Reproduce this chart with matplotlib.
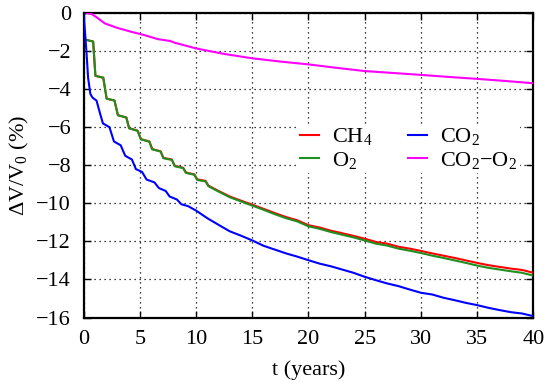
import matplotlib
matplotlib.use('Agg')
import matplotlib.pyplot as plt

plt.rcParams['font.family'] = 'Liberation Serif'
plt.rcParams['mathtext.fontset'] = 'custom'
plt.rcParams['mathtext.rm'] = 'Liberation Serif'
plt.rcParams['mathtext.it'] = 'Liberation Serif'

# O2 (green): steps in the first years, then yearly values
t_o2 = [0.3, 0.85, 1.05, 1.75, 2.05, 2.75, 3.05, 3.8, 4.05, 4.8, 5.1, 5.85,
        6.1, 6.85, 7.1, 7.85, 8.1, 8.85, 9.1, 9.85, 10.1, 10.85, 11.1,
        12, 13, 14, 15, 16, 17, 18, 19, 20, 21, 22, 23, 24, 25, 26, 27, 28,
        29, 30, 31, 32, 33, 34, 35, 36, 37, 38, 39, 40]
v_o2 = [-1.42, -1.5, -3.3, -3.4, -4.5, -4.6, -5.37, -5.49, -6.06, -6.19, -6.64, -6.76,
        -7.16, -7.28, -7.63, -7.72, -8.05, -8.15, -8.4, -8.5, -8.77, -8.85, -9.1,
        -9.38, -9.68, -9.9, -10.12, -10.34, -10.57, -10.78, -10.95, -11.21, -11.34,
        -11.51, -11.65, -11.79, -11.95, -12.12, -12.22, -12.38, -12.49, -12.61,
        -12.75, -12.87, -13.0, -13.13, -13.27, -13.39, -13.48, -13.57, -13.65, -13.8]

# CH4 (red): nearly the same as O2, slightly higher later on
t_ch4 = t_o2
v_ch4 = [-1.42, -1.5, -3.3, -3.4, -4.5, -4.6, -5.37, -5.49, -6.05, -6.18, -6.63, -6.75,
         -7.15, -7.27, -7.61, -7.7, -8.03, -8.13, -8.38, -8.48, -8.74, -8.82, -9.07,
         -9.35, -9.64, -9.86, -10.07, -10.29, -10.51, -10.72, -10.89, -11.15, -11.27,
         -11.44, -11.57, -11.71, -11.86, -12.03, -12.12, -12.28, -12.38, -12.5,
         -12.63, -12.75, -12.87, -13.0, -13.13, -13.25, -13.34, -13.43, -13.5, -13.65]

# CO2 (blue)
t_co2 = [0, 0.1, 0.25, 0.4, 0.6, 0.8, 1.15, 1.45, 1.72, 2.3, 2.7, 3.3, 3.7, 4.3,
         4.65, 5.2, 5.6, 6.3, 6.7, 7.3, 7.65, 8.3, 8.7, 9.3,
         10, 11, 12, 13, 14, 15, 16, 17, 18, 19, 20, 21, 22, 23, 24, 25, 26, 27,
         28, 29, 30, 31, 32, 33, 34, 35, 36, 37, 38, 39, 40]
v_co2 = [0, -0.8, -2.0, -3.4, -4.25, -4.45, -4.6, -5.25, -5.8, -6.0, -6.75, -6.95,
         -7.5, -7.7, -8.2, -8.35, -8.75, -8.9, -9.2, -9.35, -9.64, -9.8, -10.05, -10.15,
         -10.38, -10.78, -11.13, -11.47, -11.7, -11.95, -12.23, -12.43, -12.63, -12.8,
         -12.99, -13.17, -13.31, -13.48, -13.65, -13.86, -14.04, -14.21, -14.35,
         -14.53, -14.7, -14.79, -14.96, -15.09, -15.23, -15.35, -15.49, -15.61,
         -15.72, -15.79, -15.93]

# CO2-O2 (magenta)
t_diff = [0.3, 0.7, 1.1, 1.9, 3.0, 4.2, 5.4, 6.6, 7.7, 8.1, 10, 12.5, 15, 17.5,
          20, 22.5, 25, 27.5, 30, 32.5, 35, 37.5, 40]
v_diff = [0, -0.05, -0.2, -0.55, -0.78, -0.98, -1.16, -1.37, -1.47, -1.56, -1.86,
          -2.15, -2.38, -2.55, -2.7, -2.88, -3.05, -3.15, -3.25, -3.36, -3.46,
          -3.57, -3.69]

x_ticks = list(range(0, 41, 5))
y_ticks = list(range(-16, 1, 2))

fs = 16
fig = plt.figure(figsize=(5.5, 3.83), dpi=100)
ax = fig.add_axes([0.152, 0.171, 0.8177, 0.795])

lw = 1.5
ax.plot(t_ch4, v_ch4, color='#ff0000', lw=lw, label='CH$_4$', zorder=3)
ax.plot(t_o2, v_o2, color='#1f8f1f', lw=lw, label='O$_2$', zorder=3)
ax.plot(t_co2, v_co2, color='#0000ff', lw=lw, label='CO$_2$', zorder=3)
ax.plot(t_diff, v_diff, color='#ff00ff', lw=lw, label='CO$_2$\u2212O$_2$', zorder=3)

ax.set_xlim(0, 40)
ax.set_ylim(-16, 0)
ax.set_xticks(x_ticks)
ax.set_yticks(y_ticks)
ax.grid(True, color='black', linestyle=(0, (1, 3)), linewidth=0.9)
ax.tick_params(direction='in', top=True, right=True, length=5, width=1,
               labelsize=fs)
ax.tick_params(axis='x', pad=9)
ax.tick_params(axis='y', pad=9)
for s in ax.spines.values():
    s.set_linewidth(1.6)

ax.set_xlabel('t (years)', fontsize=fs, labelpad=8)
ax.set_ylabel(r'$\Delta$V/V$_0$ (%)', fontsize=fs, labelpad=4)

leg = ax.legend(ncol=2, loc='upper left', bbox_to_anchor=(0.476, 0.635),
                fontsize=fs, handlelength=0.85, handletextpad=0.6,
                columnspacing=1.6, labelspacing=0.1, borderpad=0.1,
                borderaxespad=0, frameon=True, fancybox=False)
leg.get_frame().set_edgecolor('none')
leg.get_frame().set_facecolor('white')
leg.get_frame().set_alpha(1)

fig.savefig('out.png', dpi=100)
